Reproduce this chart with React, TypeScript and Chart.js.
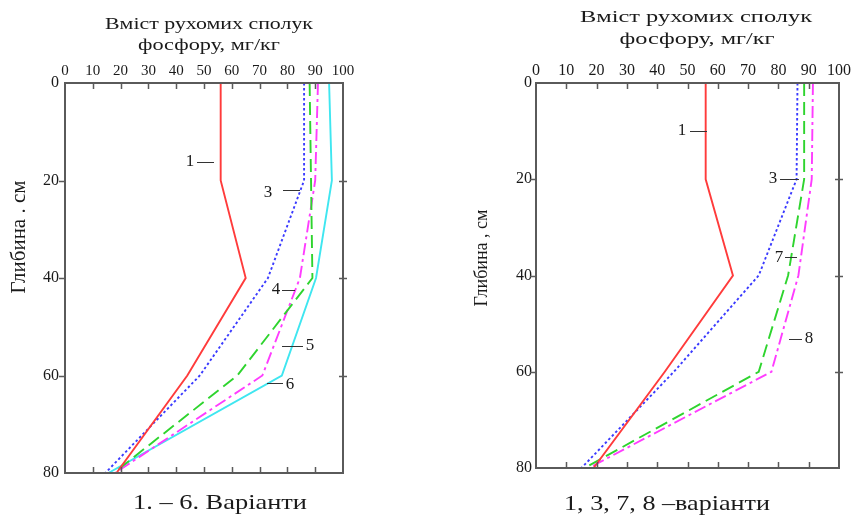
import React, { useEffect, useRef } from "react";
import { Chart, registerables } from "chart.js";

Chart.register(...registerables);

// ---- data ----
const depths = [0, 20, 40, 60, 80];
const xTickStep = 10;
const yTickStep = 20;

// left panel: variants 1, 3, 4, 5, 6
const leftV1 = [56, 56, 65, 44, 18.5];
const leftV3 = [86, 86, 73, 48.5, 14.5];
const leftV4 = [88, 88.5, 89, 62, 17.5];
const leftV5 = [91, 90, 84.5, 71, 18];
const leftV6 = [95, 96, 90.3, 78, 15.6];

// right panel: variants 1, 3, 7, 8
const rightV1 = [56, 56, 65, 42.5, 19];
const rightV3 = [86.3, 86, 73.5, 45.5, 15];
const rightV7 = [88.5, 88.5, 83.2, 73.5, 16];
const rightV8 = [91.4, 91, 86.6, 77.7, 17.4];

const titleLines = ["Вміст рухомих сполук", "фосфору, мг/кг"];
const leftCaption = "1. – 6. Варіанти";
const rightCaption = "1, 3, 7, 8 –варіанти";
const leftYTitle = "Глибина . см";
const rightYTitle = "Глибина , см";

// ---- styles ----
const RED = { color: "#ff3b3b", dash: [] as number[] };
const BLUE = { color: "#3b3bff", dash: [2.5, 2.5] };
const GREEN = { color: "#2ed42e", dash: [13, 6] };
const MAGENTA = { color: "#ff3cff", dash: [12, 4, 3, 4] };
const CYAN = { color: "#3fe6f0", dash: [] as number[] };

const SERIF = '"Liberation Serif", "DejaVu Serif", serif';
const TEXT = "#1a1a1a";

type TextItem = { t: string; x: number; y: number; size: number; w?: number; rot?: boolean };
type Mark = { t: string; tx: number; ty: number; x1: number; x2: number; ly: number };

const panels = [
  {
    left: 0,
    width: 427,
    area: { l: 65, t: 83, r: 343, b: 473 },
    tickSizeX: 15,
    tickSizeY: 16,
    tickPadX: 3,
    tickPadY: 6,
    series: [
      { v: leftV1, s: RED },
      { v: leftV3, s: BLUE },
      { v: leftV4, s: GREEN },
      { v: leftV5, s: MAGENTA },
      { v: leftV6, s: CYAN },
    ],
    texts: [
      { t: titleLines[0], x: 209, y: 25, size: 17, w: 208 },
      { t: titleLines[1], x: 209, y: 46, size: 17, w: 142 },
      { t: leftCaption, x: 220, y: 503, size: 21, w: 174 },
      { t: leftYTitle, x: 20, y: 237, size: 20, w: 113, rot: true },
    ] as TextItem[],
    marks: [
      { t: "1", tx: 190, ty: 162, x1: 197, x2: 214, ly: 162 },
      { t: "3", tx: 268, ty: 193, x1: 283, x2: 300, ly: 190 },
      { t: "4", tx: 276, ty: 290, x1: 282, x2: 295, ly: 290 },
      { t: "5", tx: 310, ty: 346, x1: 282, x2: 303, ly: 346 },
      { t: "6", tx: 290, ty: 385, x1: 267, x2: 283, ly: 383 },
    ] as Mark[],
  },
  {
    left: 427,
    width: 427,
    area: { l: 109, t: 83, r: 416, b: 468 },
    tickSizeX: 16,
    tickSizeY: 16,
    tickPadX: 3,
    tickPadY: 4,
    series: [
      { v: rightV1, s: RED },
      { v: rightV3, s: BLUE },
      { v: rightV7, s: GREEN },
      { v: rightV8, s: MAGENTA },
    ],
    texts: [
      { t: titleLines[0], x: 269, y: 18, size: 17, w: 232 },
      { t: titleLines[1], x: 270, y: 40, size: 17, w: 155 },
      { t: rightCaption, x: 240, y: 504, size: 21, w: 206 },
      { t: rightYTitle, x: 55, y: 258, size: 18, w: 97, rot: true },
    ] as TextItem[],
    marks: [
      { t: "1", tx: 255, ty: 131, x1: 263, x2: 280, ly: 131 },
      { t: "3", tx: 346, ty: 179, x1: 353, x2: 372, ly: 179 },
      { t: "7", tx: 352, ty: 258, x1: 358, x2: 370, ly: 257 },
      { t: "8", tx: 382, ty: 339, x1: 362, x2: 375, ly: 339 },
    ] as Mark[],
  },
];

function drawText(ctx: CanvasRenderingContext2D, it: TextItem) {
  ctx.save();
  ctx.translate(it.x, it.y);
  if (it.rot) ctx.rotate(-Math.PI / 2);
  ctx.font = `${it.size}px ${SERIF}`;
  const m = ctx.measureText(it.t).width;
  const sx = it.w ? it.w / m : 1;
  ctx.scale(sx, 1);
  ctx.textAlign = "center";
  ctx.textBaseline = "middle";
  ctx.fillStyle = TEXT;
  ctx.fillText(it.t, 0, 0);
  ctx.restore();
}

function PanelChart({ p }: { p: (typeof panels)[number] }) {
  const ref = useRef<HTMLCanvasElement | null>(null);
  useEffect(() => {
    if (!ref.current) return;
    const a = p.area;
    const decor = {
      id: "decor",
      afterDraw(chart: any) {
        const ctx: CanvasRenderingContext2D = chart.ctx;
        const ca = chart.chartArea;
        const xs = chart.scales.x;
        const ys = chart.scales.y;
        ctx.save();
        ctx.strokeStyle = "#5a5a5a";
        ctx.lineWidth = 2;
        ctx.strokeRect(ca.left, ca.top, ca.right - ca.left, ca.bottom - ca.top);
        ctx.lineWidth = 1.5;
        ctx.beginPath();
        for (let v = xTickStep; v < 100; v += xTickStep) {
          const px = Math.round(xs.getPixelForValue(v)) + 0.5;
          ctx.moveTo(px, ca.top);
          ctx.lineTo(px, ca.top + 6);
          ctx.moveTo(px, ca.bottom);
          ctx.lineTo(px, ca.bottom - 6);
        }
        for (let v = yTickStep; v < 80; v += yTickStep) {
          const py = Math.round(ys.getPixelForValue(v)) + 0.5;
          ctx.moveTo(ca.left - 6, py);
          ctx.lineTo(ca.left + 1, py);
          ctx.moveTo(ca.right - 4, py);
          ctx.lineTo(ca.right + 4, py);
        }
        ctx.stroke();
        // labels with leader lines
        ctx.strokeStyle = "#333";
        ctx.lineWidth = 1;
        for (const mk of p.marks) {
          ctx.beginPath();
          ctx.moveTo(mk.x1, mk.ly + 0.5);
          ctx.lineTo(mk.x2, mk.ly + 0.5);
          ctx.stroke();
          drawText(ctx, { t: mk.t, x: mk.tx, y: mk.ty, size: 17 });
        }
        for (const it of p.texts) drawText(ctx, it);
        ctx.restore();
      },
    };
    const datasets = p.series.map((s) => ({
      data: s.v.map((v, i) => ({ x: v, y: depths[i] })),
      showLine: true,
      borderColor: s.s.color,
      backgroundColor: s.s.color,
      borderWidth: 1.9,
      borderDash: s.s.dash,
      pointRadius: 0,
      fill: false,
      tension: 0,
    }));
    const chart = new Chart(ref.current, {
      type: "scatter",
      data: { datasets },
      options: {
        animation: false,
        responsive: false,
        maintainAspectRatio: false,
        layout: { padding: { left: 0, top: 0, right: p.width - a.r, bottom: 517 - a.b } },
        plugins: { legend: { display: false }, tooltip: { enabled: false } },
        scales: {
          x: {
            type: "linear",
            position: "top",
            min: 0,
            max: 100,
            ticks: {
              stepSize: xTickStep,
              padding: p.tickPadX,
              font: { family: SERIF, size: p.tickSizeX },
              color: TEXT,
              autoSkip: false,
              maxRotation: 0,
            },
            grid: { display: false, drawTicks: false },
            border: { display: false },
            afterFit(s: any) {
              s.height = a.t;
            },
          },
          y: {
            type: "linear",
            reverse: true,
            min: 0,
            max: 80,
            ticks: {
              stepSize: yTickStep,
              padding: p.tickPadY,
              font: { family: SERIF, size: p.tickSizeY },
              color: TEXT,
            },
            grid: { display: false, drawTicks: false },
            border: { display: false },
            afterFit(s: any) {
              s.width = a.l;
            },
          },
        },
      } as any,
      plugins: [decor],
    });
    return () => chart.destroy();
  }, [p]);
  return (
    <canvas
      ref={ref}
      width={p.width}
      height={517}
      style={{ position: "absolute", left: p.left, top: 0, width: p.width, height: 517 }}
    />
  );
}

export default function App() {
  return (
    <div style={{ position: "fixed", left: 0, top: 0, width: 854, height: 517, background: "#fff", overflow: "hidden" }}>
      {panels.map((p, i) => (
        <PanelChart key={i} p={p} />
      ))}
    </div>
  );
}
